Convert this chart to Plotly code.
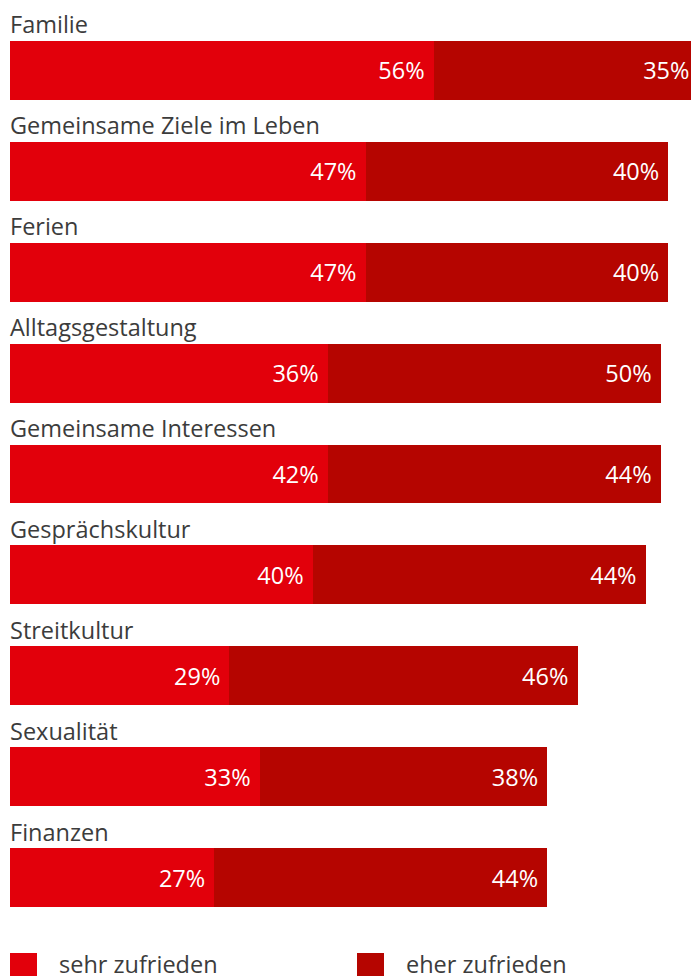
import plotly.graph_objects as go

categories = [
    "Familie",
    "Gemeinsame Ziele im Leben",
    "Ferien",
    "Alltagsgestaltung",
    "Gemeinsame Interessen",
    "Gesprächskultur",
    "Streitkultur",
    "Sexualität",
    "Finanzen",
]
# bar lengths as drawn in the picture
sehr_values = [56, 47, 47, 42, 42, 40, 29, 33, 27]
eher_values = [35, 40, 40, 44, 44, 44, 46, 38, 44]
# labels as printed in the picture (Alltagsgestaltung differs from its bar)
sehr_labels = ["56%", "47%", "47%", "36%", "42%", "40%", "29%", "33%", "27%"]
eher_labels = ["35%", "40%", "40%", "50%", "44%", "44%", "46%", "38%", "44%"]

series_names = ["sehr zufrieden", "eher zufrieden"]
colours = ["#E2000B", "#B50500"]

FONT = "Open Sans"
FONT_SIZE = 23.5
TEXT_COLOUR = "#3c3c3c"

fig = go.Figure()
for name, values, labels, colour in zip(
    series_names, [sehr_values, eher_values], [sehr_labels, eher_labels], colours
):
    fig.add_trace(
        go.Bar(
            y=categories,
            x=values,
            name=name,
            orientation="h",
            marker=dict(color=colour, line=dict(width=0)),
            text=labels,
            texttemplate="%{text}\u00a0",
            textposition="inside",
            insidetextanchor="end",
            insidetextfont=dict(family=FONT, size=FONT_SIZE, color="white"),
            hoverinfo="skip",
            showlegend=False,
        )
    )

# category labels above each bar
for cat in categories:
    fig.add_annotation(
        x=0,
        xref="paper",
        y=cat,
        yref="y",
        text=cat,
        showarrow=False,
        xanchor="left",
        yanchor="middle",
        xshift=-2,
        yshift=46,
        font=dict(family=FONT, size=FONT_SIZE, color=TEXT_COLOUR),
    )

# legend drawn by hand at the bottom
legend_x = [0, 347]
for lx, name, colour in zip(legend_x, series_names, colours):
    fig.add_shape(
        type="rect",
        xref="paper",
        yref="paper",
        xsizemode="pixel",
        ysizemode="pixel",
        xanchor=0,
        yanchor=0,
        x0=lx,
        x1=lx + 27,
        y0=-25,
        y1=-55,
        fillcolor=colour,
        line=dict(width=0),
    )
    fig.add_annotation(
        x=0,
        xref="paper",
        y=0,
        yref="paper",
        xshift=lx + 47,
        yshift=-36,
        text=name,
        showarrow=False,
        xanchor="left",
        yanchor="middle",
        font=dict(family=FONT, size=FONT_SIZE, color=TEXT_COLOUR),
    )

fig.update_layout(
    barmode="stack",
    bargap=0.416,
    width=691,
    height=976,
    margin=dict(l=10, r=0, t=20, b=48),
    paper_bgcolor="white",
    plot_bgcolor="white",
)
fig.update_xaxes(range=[0, 90], visible=False, fixedrange=True)
fig.update_yaxes(
    categoryorder="array",
    categoryarray=categories,
    range=[8.5, -0.5],
    visible=False,
    fixedrange=True,
)

# drop the default body margin so the figure fills the window exactly
fig.write_html(
    "out.html",
    config={"displayModeBar": False},
    post_script="document.body.style.margin='0';"
    "document.documentElement.style.overflow='hidden';",
)
